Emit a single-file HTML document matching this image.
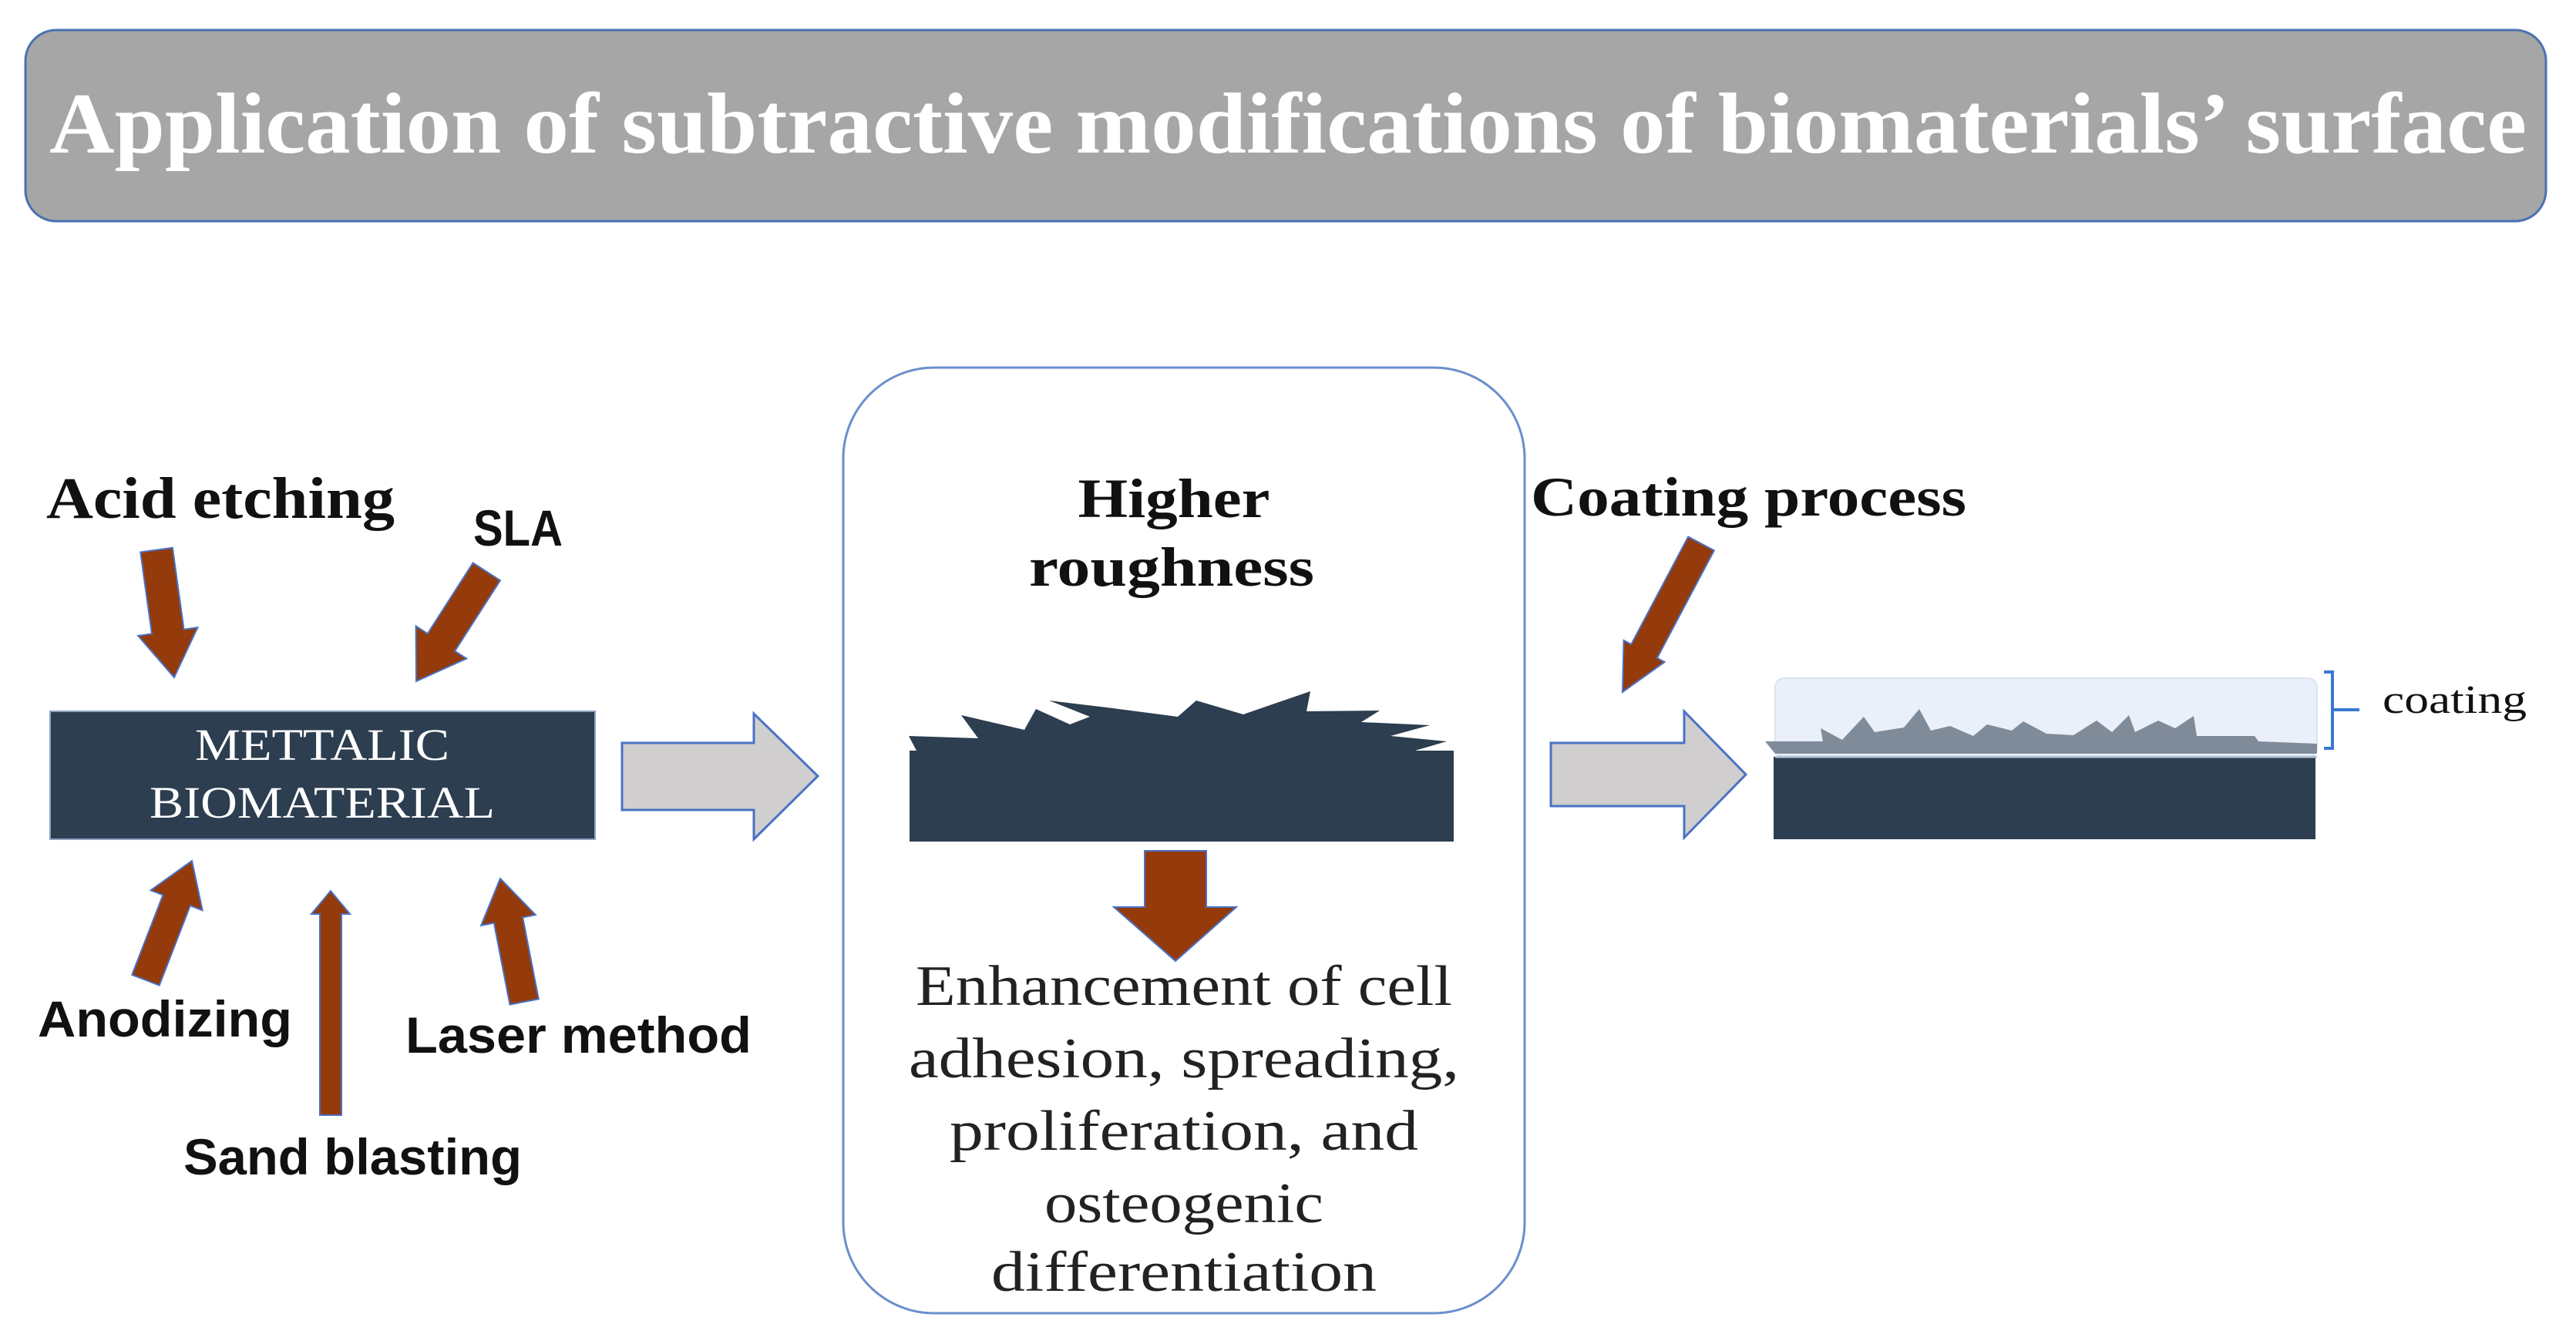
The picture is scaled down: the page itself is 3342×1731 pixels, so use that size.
<!DOCTYPE html>
<html><head><meta charset="utf-8"><style>
html,body{margin:0;padding:0;background:#fff}
svg{display:block}
</style></head><body>
<svg width="3342" height="1731" viewBox="0 0 3342 1731" xmlns="http://www.w3.org/2000/svg">
<!-- header -->
<rect x="33" y="39" width="3270" height="248" rx="40" fill="#a6a6a6" stroke="#4a72b0" stroke-width="3"/>
<text x="64" y="198" font-family="Liberation Serif, serif" font-weight="bold" font-size="112" fill="#fff" textLength="3214" lengthAdjust="spacingAndGlyphs">Application of subtractive modifications of biomaterials’ surface</text>

<!-- left section -->
<text x="60" y="672" font-family="Liberation Serif, serif" font-weight="bold" font-size="76" fill="#111" textLength="452" lengthAdjust="spacingAndGlyphs">Acid etching</text>
<text x="614" y="708" font-family="Liberation Sans, sans-serif" font-weight="bold" font-size="66" fill="#111" textLength="116" lengthAdjust="spacingAndGlyphs">SLA</text>
<rect x="65" y="923" width="707" height="166" fill="#2c3e50" stroke="#8ea3c0" stroke-width="2"/>
<text x="418" y="986" text-anchor="middle" font-family="Liberation Serif, serif" font-size="58" fill="#fff" textLength="330" lengthAdjust="spacingAndGlyphs">METTALIC</text>
<text x="418" y="1061" text-anchor="middle" font-family="Liberation Serif, serif" font-size="58" fill="#fff" textLength="448" lengthAdjust="spacingAndGlyphs">BIOMATERIAL</text>
<text x="49" y="1345" font-family="Liberation Sans, sans-serif" font-weight="bold" font-size="66" fill="#111" textLength="330" lengthAdjust="spacingAndGlyphs">Anodizing</text>
<text x="526" y="1366" font-family="Liberation Sans, sans-serif" font-weight="bold" font-size="66" fill="#111" textLength="449" lengthAdjust="spacingAndGlyphs">Laser method</text>
<text x="238" y="1524" font-family="Liberation Sans, sans-serif" font-weight="bold" font-size="66" fill="#111" textLength="439" lengthAdjust="spacingAndGlyphs">Sand blasting</text>

<g fill="#943a0b" stroke="#4a72c4" stroke-width="2">
<g transform="translate(226,879) rotate(82.1)"><path d="M0,0 L-60,-39 L-60,-21 L-167,-21 L-167,21 L-60,21 L-60,39 Z"/></g>
<g transform="translate(540,884) rotate(122.7)"><path d="M0,0 L-60,-39 L-60,-21 L-169,-21 L-169,21 L-60,21 L-60,39 Z"/></g>
<g transform="translate(249,1117) rotate(-68.8)"><path d="M0,0 L-55,-36 L-55,-19 L-166,-19 L-166,19 L-55,19 L-55,36 Z"/></g>
<g transform="translate(429,1156) rotate(-90)"><path d="M0,0 L-30,-25 L-30,-14 L-291,-14 L-291,14 L-30,14 L-30,25 Z"/></g>
<g transform="translate(649,1140) rotate(-101)"><path d="M0,0 L-55,-36 L-55,-19 L-163,-19 L-163,19 L-55,19 L-55,36 Z"/></g>
<g transform="translate(2105,898) rotate(117.9)"><path d="M0,0 L-60,-30 L-60,-19 L-218,-19 L-218,19 L-60,19 L-60,30 Z"/></g>
</g>

<!-- gray arrows -->
<path d="M807,964 L978,964 L978,926 L1061,1007 L978,1089 L978,1051 L807,1051 Z" fill="#d0cece" stroke="#4a72c4" stroke-width="3"/>
<path d="M2012,964 L2185,964 L2185,923 L2265,1005 L2185,1087 L2185,1046 L2012,1046 Z" fill="#d0cece" stroke="#4a72c4" stroke-width="3"/>

<!-- middle box -->
<rect x="1094" y="477" width="884" height="1227" rx="118" fill="none" stroke="#6a8fcc" stroke-width="3"/>
<text x="1523" y="671" text-anchor="middle" font-family="Liberation Serif, serif" font-weight="bold" font-size="72" fill="#111" textLength="249" lengthAdjust="spacingAndGlyphs">Higher</text>
<text x="1520" y="760" text-anchor="middle" font-family="Liberation Serif, serif" font-weight="bold" font-size="72" fill="#111" textLength="370" lengthAdjust="spacingAndGlyphs">roughness</text>
<rect x="1180" y="974" width="706" height="118" fill="#2c3e50"/>
<polygon points="1190,976 1179,955 1269,958 1247,928 1329,947 1344,920 1388,940 1414,930 1361,909 1436,918 1528,930 1552,909 1613,927 1700,897 1695,923 1790,922 1766,937 1855,941 1804,955 1877,962 1829,976" fill="#2c3e50"/>
<path d="M1485,1104 L1565,1104 L1565,1177 L1604,1177 L1525,1247 L1445,1177 L1485,1177 Z" fill="#943a0b" stroke="#4a72c4" stroke-width="2"/>
<g font-family="Liberation Serif, serif" font-size="74" fill="#222" text-anchor="middle">
<text x="1536" y="1304" textLength="696" lengthAdjust="spacingAndGlyphs">Enhancement of cell</text>
<text x="1536" y="1398" textLength="714" lengthAdjust="spacingAndGlyphs">adhesion, spreading,</text>
<text x="1536" y="1492" textLength="608" lengthAdjust="spacingAndGlyphs">proliferation, and</text>
<text x="1536" y="1586" textLength="362" lengthAdjust="spacingAndGlyphs">osteogenic</text>
<text x="1536" y="1675" textLength="500" lengthAdjust="spacingAndGlyphs">differentiation</text>
</g>

<!-- right -->
<text x="1986" y="669" font-family="Liberation Serif, serif" font-weight="bold" font-size="72" fill="#111" textLength="565" lengthAdjust="spacingAndGlyphs">Coating process</text>
<rect x="2301" y="982" width="703" height="107" fill="#2c3e50"/>
<rect x="2303" y="880" width="703" height="102" rx="12" fill="#eaf0fa" stroke="#dbe3ef" stroke-width="2"/>
<polygon points="2303,978 2290,962 2365,962 2362,945 2390,960 2418,930 2432,950 2470,944 2490,920 2505,948 2530,942 2560,955 2578,940 2610,948 2625,936 2655,952 2690,954 2720,935 2740,950 2762,928 2770,950 2800,935 2822,945 2846,929 2850,955 2925,955 2930,962 3006,965 3006,978" fill="#808b9a"/>
<line x1="2303" y1="982" x2="3006" y2="982" stroke="#b8c4d4" stroke-width="3"/>
<path d="M3015,872 L3026,872 L3026,971 L3015,971 M3026,921 L3061,921" fill="none" stroke="#3a78d0" stroke-width="4"/>
<text x="3091" y="925" font-family="Liberation Serif, serif" font-size="52" fill="#111" textLength="187" lengthAdjust="spacingAndGlyphs">coating</text>
</svg>
</body></html>
